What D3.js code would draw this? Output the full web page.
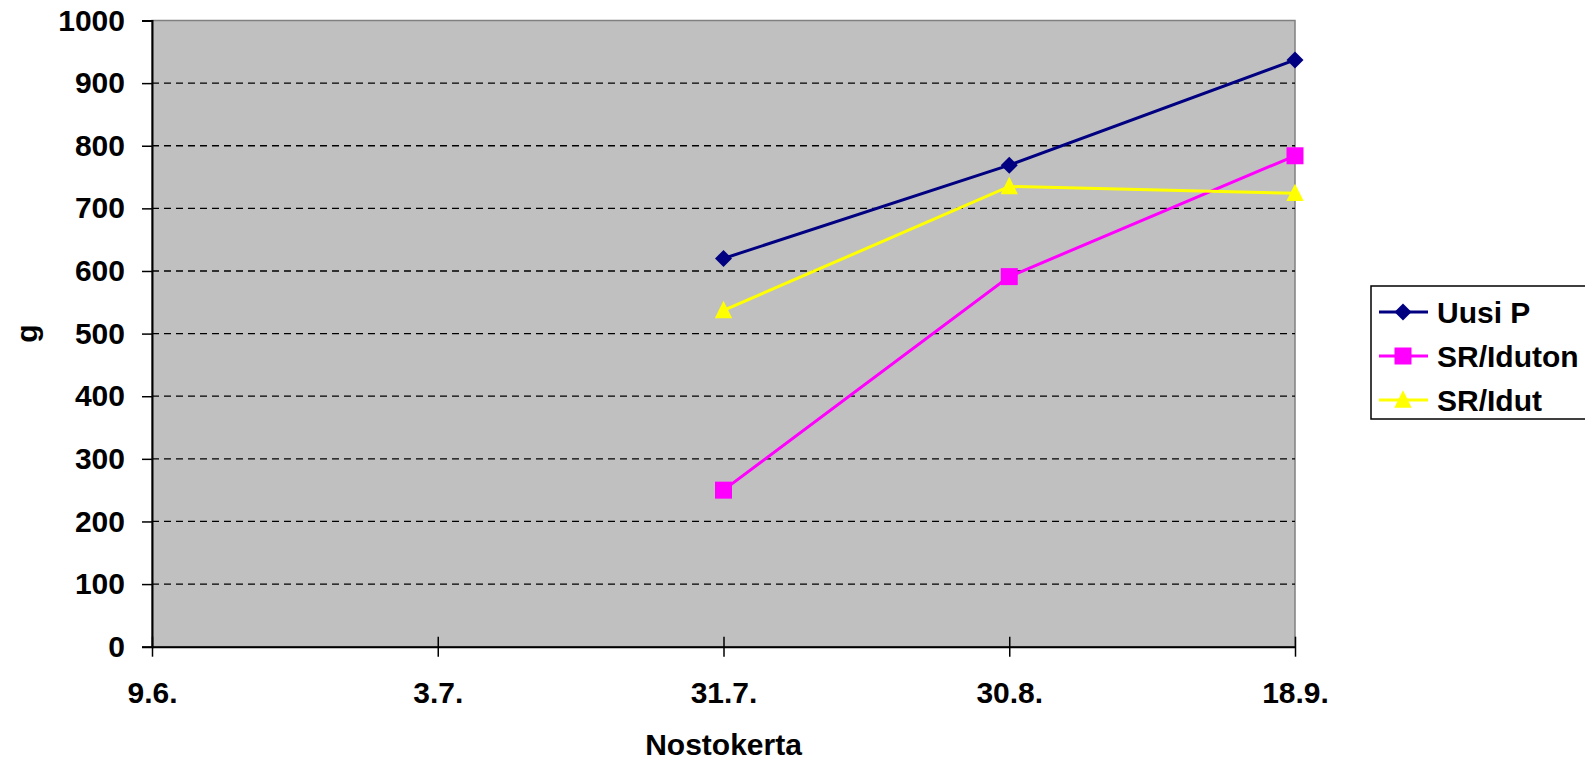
<!DOCTYPE html>
<html>
<head>
<meta charset="utf-8">
<script src="https://cdn.jsdelivr.net/npm/d3@7"></script>
<style>
  body { margin: 0; background: #fff; }
  svg text { font-family: "Liberation Sans", Arial, sans-serif; font-weight: bold; fill: #000; }
</style>
</head>
<body>
<svg class="chart"></svg>
<script>
let dates = ['9.6.', '3.7.', '31.7.', '30.8.', '18.9.'];
let yTicks = [0, 100, 200, 300, 400, 500, 600, 700, 800, 900, 1000];

let uusiP    = [null, null, 620, 769, 937];
let srIduton = [null, null, 250, 591, 784];
let srIdut   = [null, null, 537, 735, 724];

let seriesNames = ['Uusi P', 'SR/Iduton', 'SR/Idut'];
let seriesColors = ['#000080', '#ff00ff', '#ffff00'];

// marker shapes (Excel style: diamond, square, tall triangle)
let diamond = { draw: (ctx, s) => { let r = 8.5; ctx.moveTo(0, -r); ctx.lineTo(r, 0); ctx.lineTo(0, r); ctx.lineTo(-r, 0); ctx.closePath(); } };
let square = { draw: (ctx, s) => { let r = 8.5; ctx.rect(-r, -r, 2 * r, 2 * r); } };
let triangle = { draw: (ctx, s) => { let r = 8.7; ctx.moveTo(0, -r - 1); ctx.lineTo(r, r - 1); ctx.lineTo(-r, r - 1); ctx.closePath(); } };
let seriesShapes = [diamond, square, triangle];

let margin = { top: 20.5, left: 152 };
let W = 1585, H = 765;
let width = 1295 - margin.left;
let height = 646.7 - margin.top;

let svg = d3.select('.chart').attr('width', W).attr('height', H);
let chart = svg.append('g').attr('transform', 'translate(' + margin.left + ',' + margin.top + ')');

let x = d3.scalePoint().domain(dates).range([0, width]);
let y = d3.scaleLinear().domain([0, 1000]).range([height, 0]);

// plot area
chart.append('rect')
    .attr('width', width).attr('height', height)
    .attr('fill', '#c0c0c0')
    .attr('stroke', '#808080').attr('stroke-width', 1.5);

// gridlines
chart.selectAll('.grid')
    .data(yTicks.filter(d => d > 0 && d < 1000))
  .enter().append('line')
    .attr('x1', 0).attr('x2', width)
    .attr('y1', d => y(d)).attr('y2', d => y(d))
    .attr('stroke', '#000').attr('stroke-width', 1.3)
    .attr('stroke-dasharray', '7,5');

// y axis
let yAxis = chart.append('g')
    .call(d3.axisLeft(y).tickValues(yTicks).tickFormat(d3.format('d')).tickSize(10).tickPadding(17));
yAxis.select('.domain').attr('stroke', '#000').attr('stroke-width', 2);
yAxis.selectAll('.tick line').attr('stroke', '#000').attr('stroke-width', 1.5);
yAxis.selectAll('text').style('font-size', '30px');

// x axis
let xAxis = chart.append('g')
    .attr('transform', 'translate(0,' + height + ')')
    .call(d3.axisBottom(x).tickSize(10).tickPadding(25).tickSizeOuter(0));
xAxis.select('.domain').attr('stroke', '#000').attr('stroke-width', 2);
xAxis.selectAll('.tick line').attr('stroke', '#000').attr('stroke-width', 1.5).attr('y1', -10);
xAxis.selectAll('text').style('font-size', '30px');

// titles
svg.append('text')
    .attr('x', margin.left + width / 2).attr('y', 755)
    .attr('text-anchor', 'middle')
    .style('font-size', '30px')
    .text('Nostokerta');
svg.append('text')
    .attr('transform', 'translate(37,' + (margin.top + height / 2) + ') rotate(-90)')
    .attr('text-anchor', 'middle')
    .style('font-size', '30px')
    .text('g');

// series
let allSeries = [uusiP, srIduton, srIdut];
let line = d3.line()
    .defined(d => d[1] != null)
    .x(d => x(d[0])).y(d => y(d[1]));

allSeries.forEach((vals, i) => {
  let pts = dates.map((d, j) => [d, vals[j]]);
  chart.append('path')
      .datum(pts)
      .attr('fill', 'none')
      .attr('stroke', seriesColors[i])
      .attr('stroke-width', 3)
      .attr('d', line);
  chart.selectAll('.m' + i)
      .data(pts.filter(p => p[1] != null))
    .enter().append('path')
      .attr('transform', p => 'translate(' + x(p[0]) + ',' + y(p[1]) + ')')
      .attr('d', d3.symbol().type(seriesShapes[i]))
      .attr('fill', seriesColors[i]);
});

// legend
let legend = svg.append('g').attr('transform', 'translate(1371,286)');
legend.append('rect')
    .attr('width', 260).attr('height', 133)
    .attr('fill', '#fff').attr('stroke', '#000').attr('stroke-width', 1.5);

seriesNames.forEach((name, i) => {
  let g = legend.append('g').attr('transform', 'translate(0,' + (26 + i * 44) + ')');
  g.append('line')
      .attr('x1', 8).attr('x2', 57)
      .attr('stroke', seriesColors[i]).attr('stroke-width', 3);
  g.append('path')
      .attr('transform', 'translate(32,0)')
      .attr('d', d3.symbol().type(seriesShapes[i]))
      .attr('fill', seriesColors[i]);
  g.append('text')
      .attr('x', 66).attr('y', 10.5)
      .style('font-size', '30px')
      .text(name);
});
</script>
</body>
</html>
